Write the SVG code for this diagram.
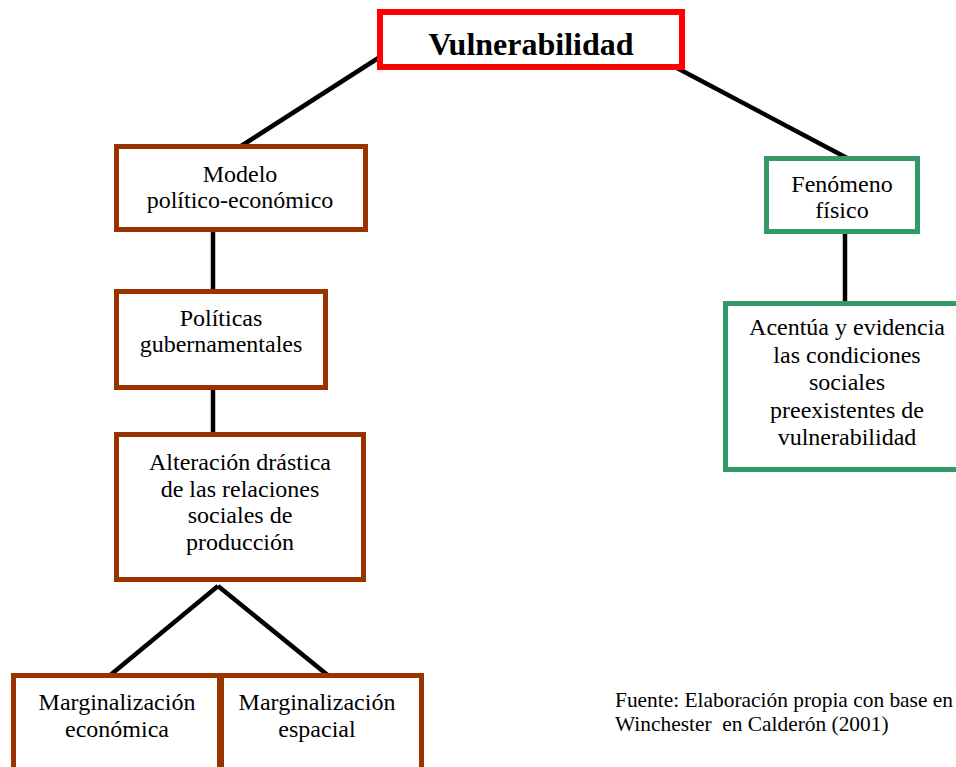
<svg xmlns="http://www.w3.org/2000/svg" width="956" height="767" viewBox="0 0 956 767">
<style>
text{font-family:"Liberation Serif","Times New Roman",serif;fill:#000;text-anchor:middle;font-size:24px}
.title{font-weight:bold;font-size:32px}
.src{text-anchor:start;font-size:21.4px;white-space:pre}
.red{fill:#fff;stroke:#ff0000;stroke-width:6}
.brown{fill:#fff;stroke:#993300;stroke-width:5}
.green{fill:#fff;stroke:#339966;stroke-width:5}
.conn line{stroke:#000;stroke-width:4.5}
</style>
<rect width="956" height="767" fill="#fff"/>
<g class="conn" id="connectors">
<line x1="383" y1="55" x2="238" y2="148"/>
<line x1="677" y1="68" x2="847" y2="158"/>
<line x1="213" y1="230" x2="213" y2="290"/>
<line x1="213" y1="388" x2="213" y2="434"/>
<line x1="218" y1="586" x2="108" y2="677"/>
<line x1="218" y1="586" x2="330" y2="677"/>
<line x1="845" y1="231" x2="845" y2="303"/>
</g>
<g id="vulnerabilidad">
<rect class="red" x="380" y="12" width="302" height="55"/>
<text class="title" x="531" y="55">Vulnerabilidad</text>
</g>
<g id="modelo">
<rect class="brown" x="116.5" y="146.5" width="249" height="83"/>
<text x="240" y="182">Modelo</text>
<text x="240" y="208">político-económico</text>
</g>
<g id="politicas">
<rect class="brown" x="116.5" y="291.5" width="209" height="96"/>
<text x="221" y="326">Políticas</text>
<text x="221" y="352">gubernamentales</text>
</g>
<g id="alteracion">
<rect class="brown" x="116.5" y="434.5" width="247" height="145"/>
<text x="240" y="470">Alteración drástica</text>
<text x="240" y="497">de las relaciones</text>
<text x="240" y="523">sociales de</text>
<text x="240" y="550">producción</text>
</g>
<g id="marg-economica">
<rect class="brown" x="13.5" y="675.5" width="206" height="100"/>
<text x="117" y="710">Marginalización</text>
<text x="117" y="737">económica</text>
</g>
<g id="marg-espacial">
<rect class="brown" x="221.5" y="675.5" width="200" height="100"/>
<text x="317" y="710">Marginalización</text>
<text x="317" y="737">espacial</text>
</g>
<g id="fenomeno">
<rect class="green" x="766.5" y="158.5" width="151" height="73"/>
<text x="842" y="192">Fenómeno</text>
<text x="842" y="218">físico</text>
</g>
<g id="acentua">
<rect class="green" x="725.5" y="303.5" width="240" height="166"/>
<text x="847" y="335">Acentúa y evidencia</text>
<text x="847" y="363">las condiciones</text>
<text x="847" y="390">sociales</text>
<text x="847" y="418">preexistentes de</text>
<text x="847" y="445">vulnerabilidad</text>
</g>
<g id="fuente">
<text class="src" x="615" y="707">Fuente: Elaboración propia con base en</text>
<text class="src" x="615" y="731" xml:space="preserve">Winchester  en Calderón (2001)</text>
</g>
</svg>
